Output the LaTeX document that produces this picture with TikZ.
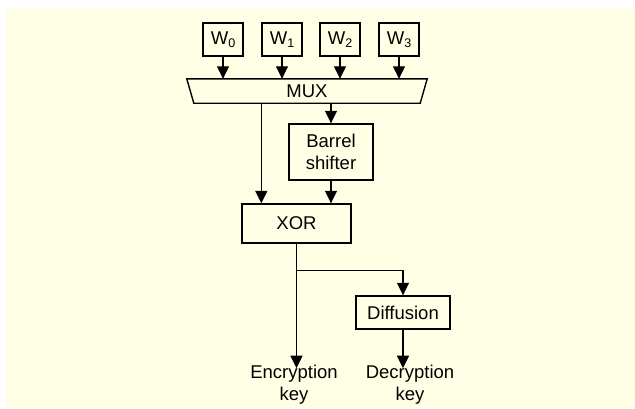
\documentclass[tikz,border=0pt]{standalone}
\usepackage{fontspec}
\setmainfont{Liberation Sans}
\usetikzlibrary{arrows.meta,calc}
\definecolor{bgyellow}{RGB}{255,255,229}
\newcommand{\Wsub}[1]{W\raisebox{-0.35ex}{\fontsize{12.5}{12.5}\selectfont #1}}
\begin{document}
\begin{tikzpicture}[x=1pt,y=-1pt,
  every node/.style={font=\fontsize{18.5}{22}\selectfont, inner sep=0pt},
  blk/.style={draw, line width=1.4pt, align=center},
  arr/.style={line width=1.2pt, -{Triangle[length=12.5pt,width=12pt]}},
  ln/.style={line width=1.2pt}]
\useasboundingbox (0,0) rectangle (635,408);
\fill[bgyellow] (6,8) rectangle (635,408);
% input words
\node[blk, minimum width=40, minimum height=33] (w0) at (223,39.5) {\Wsub{0}};
\node[blk, minimum width=40, minimum height=33] (w1) at (282,39.5) {\Wsub{1}};
\node[blk, minimum width=40, minimum height=33] (w2) at (340,39.5) {\Wsub{2}};
\node[blk, minimum width=40, minimum height=33] (w3) at (399,39.5) {\Wsub{3}};
% MUX
\node[minimum width=240, minimum height=24] (mux) at (307,91) {MUX};
\draw[line width=1.4pt] (mux.north west) -- (mux.north east) -- ([xshift=-7]mux.south east) -- ([xshift=7]mux.south west) -- cycle;
\foreach \w in {w0,w1,w2,w3}
  \draw[arr] (\w.south) -- (\w.south |- mux.north);
% barrel shifter and XOR
\node[blk, minimum width=84, minimum height=56] (bar) at (331,152) {Barrel\\shifter};
\node[blk, minimum width=109, minimum height=39] (xor) at (296.5,223.5) {XOR};
\coordinate (xl) at ([xshift=20]xor.north west);
\draw[arr] (xl |- mux.south) -- (xl);
\draw[arr] (bar.north |- mux.south) -- (bar.north);
\draw[arr] (bar.south) -- (bar.south |- xor.north);
% diffusion and outputs
\node[blk, minimum width=94, minimum height=33] (dif) at (403,312.5) {Diffusion};
\node[align=center] (enc) at (294,385) {Encryption\\key};
\node[align=center] (dec) at (410,385) {Decryption\\key};
\coordinate (br) at ($(xor.south)+(0,27)$);
\draw[arr] (xor.south) -- ([yshift=-3]xor.south |- enc.north);
\draw[arr] (br) -| (dif.north);
\draw[arr] (dif.south) -- ([yshift=-3]dif.south |- dec.north);
\end{tikzpicture}
\end{document}
